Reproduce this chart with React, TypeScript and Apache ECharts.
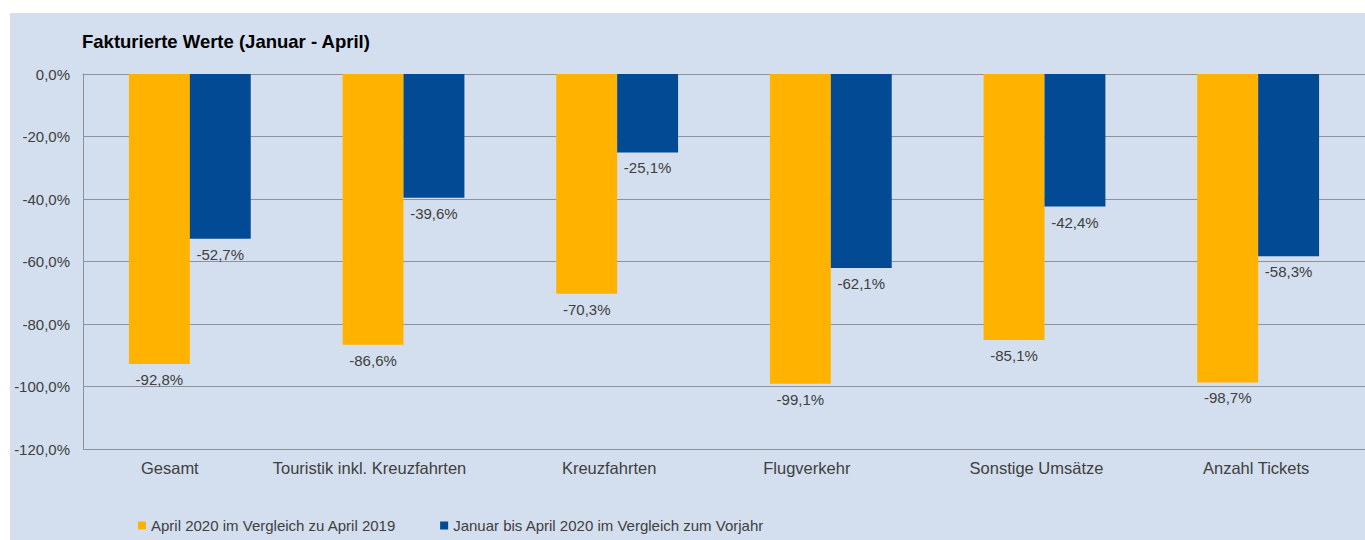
import React, { useEffect, useRef } from "react";
import * as echarts from "echarts";

const categories = [
  "Gesamt",
  "Touristik inkl. Kreuzfahrten",
  "Kreuzfahrten",
  "Flugverkehr",
  "Sonstige Umsätze",
  "Anzahl Tickets",
];
const seriesAprilName = "April 2020 im Vergleich zu April 2019";
const seriesAprilValues = [-92.8, -86.6, -70.3, -99.1, -85.1, -98.7];
const seriesJanAprName = "Januar bis April 2020 im Vergleich zum Vorjahr";
const seriesJanAprValues = [-52.7, -39.6, -25.1, -62.1, -42.4, -58.3];
const titleText = "Fakturierte Werte (Januar - April)";

// horizontal nudge (px, negative = left) of each category label, as seen in the original
const categoryLabelShift = [-20, -34, -8, -24, -8, -2];

const fmt = (v: number) => v.toFixed(1).replace(".", ",") + "%";

export default function App() {
  const ref = useRef<HTMLDivElement>(null);
  useEffect(() => {
    document.body.style.margin = "0";
    const chart = echarts.init(ref.current!, undefined, { renderer: "svg" });
    const font = "'Liberation Sans', Arial, sans-serif";
    const labelCommon = {
      show: true,
      position: "bottom" as const,
      distance: 8,
      fontFamily: font,
      fontSize: 15,
      color: "#404040",
      formatter: (p: any) => fmt(p.value),
    };
    const catData = categories.map((c, i) => {
      const s = categoryLabelShift[i];
      return {
        value: c,
        textStyle: { padding: s < 0 ? [0, -2 * s, 0, 0] : [0, 0, 0, 2 * s] },
      };
    });
    chart.setOption({
      animation: false,
      backgroundColor: "transparent",
      textStyle: { fontFamily: font },
      title: {
        text: titleText,
        left: 67,
        top: 14,
        textStyle: { fontFamily: font, fontSize: 18.5, fontWeight: "bold", color: "#000" },
      },
      legend: {
        left: 123,
        top: 500,
        itemWidth: 8,
        itemHeight: 8,
        itemGap: 44,
        icon: "rect",
        textStyle: { fontFamily: font, fontSize: 15, color: "#404040" },
        data: [seriesAprilName, seriesJanAprName],
      },
      grid: { left: 73, top: 61, width: 1284, height: 375, containLabel: false },
      xAxis: {
        type: "category",
        data: catData,
        axisLine: { show: true, lineStyle: { color: "#8e939b" } },
        axisTick: { show: false },
        axisLabel: { interval: 0, fontFamily: font, fontSize: 16.5, color: "#404040", margin: 10 },
      },
      yAxis: {
        type: "value",
        min: -120,
        max: 0,
        interval: 20,
        axisLine: { show: true, lineStyle: { color: "#8e939b" } },
        axisTick: { show: false },
        splitLine: { lineStyle: { color: "#8e939b", width: 1 } },
        axisLabel: {
          fontFamily: font,
          fontSize: 15,
          color: "#404040",
          margin: 13,
          formatter: (v: number) => fmt(v),
        },
      },
      series: [
        {
          name: seriesAprilName,
          type: "bar",
          data: seriesAprilValues,
          barGap: "0%",
          barCategoryGap: "43%",
          itemStyle: { color: "#FFB300" },
          label: labelCommon,
        },
        {
          name: seriesJanAprName,
          type: "bar",
          data: seriesJanAprValues,
          barGap: "0%",
          barCategoryGap: "43%",
          itemStyle: { color: "#024A94" },
          label: labelCommon,
        },
      ],
    });
    return () => chart.dispose();
  }, []);
  return (
    <div style={{ position: "absolute", left: 0, top: 0, width: 1365, height: 540, background: "#fff", overflow: "hidden" }}>
      <div style={{ position: "absolute", left: 10, top: 13, width: 1355, height: 527, background: "#D3DEEE" }}>
        <div ref={ref} style={{ width: 1355, height: 527 }} />
      </div>
    </div>
  );
}
